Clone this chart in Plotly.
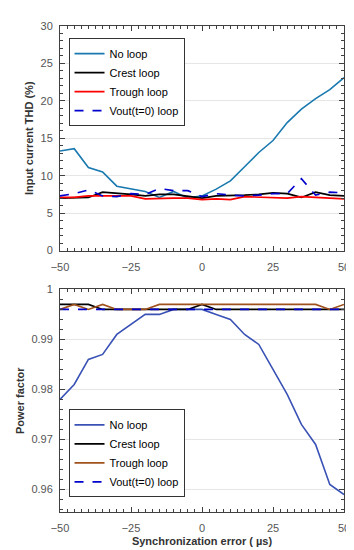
import plotly.graph_objects as go
from plotly.subplots import make_subplots

x = [-50, -45, -40, -35, -30, -25, -20, -15, -10, -5, 0, 5, 10, 15, 20, 25, 30, 35, 40, 45, 50]

thd_no = [13.3, 13.6, 11.1, 10.5, 8.6, 8.2, 7.9, 7.1, 7.9, 7.0, 7.3, 8.2, 9.3, 11.2, 13.1, 14.7, 17.1, 18.9, 20.3, 21.5, 23.1]
thd_crest = [7.0, 7.0, 7.1, 7.8, 7.7, 7.5, 7.3, 7.5, 7.5, 7.3, 7.0, 7.3, 7.3, 7.4, 7.5, 7.7, 7.6, 7.1, 7.8, 7.4, 7.3]
thd_trough = [7.1, 7.1, 7.3, 7.3, 7.4, 7.3, 6.9, 7.0, 7.0, 7.0, 6.8, 6.9, 6.8, 7.2, 7.1, 7.0, 7.0, 7.2, 7.1, 7.1, 6.9]
thd_vout = [7.3, 7.6, 8.1, 7.3, 7.2, 7.6, 7.5, 8.3, 8.0, 8.0, 7.2, 7.6, 7.4, 7.3, 7.4, 7.6, 7.6, 9.6, 7.4, 7.8, 7.7]

pf_no = [0.978, 0.981, 0.986, 0.987, 0.991, 0.993, 0.995, 0.995, 0.996, 0.996, 0.996, 0.995, 0.994, 0.991, 0.989, 0.984, 0.979, 0.973, 0.969, 0.961, 0.959]
pf_crest = [0.997, 0.997, 0.997, 0.996, 0.996, 0.996, 0.996, 0.996, 0.996, 0.996, 0.997, 0.996, 0.996, 0.996, 0.996, 0.996, 0.996, 0.996, 0.996, 0.996, 0.996]
pf_trough = [0.996, 0.997, 0.996, 0.997, 0.996, 0.996, 0.996, 0.997, 0.997, 0.997, 0.997, 0.997, 0.997, 0.997, 0.997, 0.997, 0.997, 0.997, 0.997, 0.996, 0.997]
pf_vout = [0.996] * 21

names = ["No loop", "Crest loop", "Trough loop", "Vout(t=0) loop"]

fig = make_subplots(rows=2, cols=1)

top_colors = ["#1a7ab0", "#000000", "#ff0000", "#0000cc"]
bot_colors = ["#3a52b5", "#000000", "#a0521e", "#0000cc"]

for i, (ys, c) in enumerate(zip([thd_no, thd_crest, thd_trough, thd_vout], top_colors)):
    fig.add_trace(go.Scatter(x=x, y=ys, mode="lines", name=names[i],
                             line=dict(color=c, width=1.6, dash="dash" if i == 3 else "solid"),
                             legend="legend"), row=1, col=1)
for i, (ys, c) in enumerate(zip([pf_no, pf_crest, pf_trough, pf_vout], bot_colors)):
    fig.add_trace(go.Scatter(x=x, y=ys, mode="lines", name=names[i],
                             line=dict(color=c, width=1.6, dash="dash" if i == 3 else "solid"),
                             legend="legend2"), row=2, col=1)

FONT = "Liberation Sans, Arial"
axis_common = dict(showline=True, mirror="allticks", linecolor="#404040", linewidth=1,
                   ticks="inside", ticklen=5, tickcolor="#404040",
                   tickfont=dict(family=FONT, size=11, color="#555555"),
                   zeroline=False)

fig.update_xaxes(range=[-50, 50], tickvals=[-50, -25, 0, 25, 50], showgrid=False,
                 ticklabelstandoff=6,
                 minor=dict(dtick=2.5, ticks="inside", ticklen=3, tickcolor="#404040", showgrid=False),
                 **axis_common)
fig.update_yaxes(showgrid=True, gridcolor="#e6e6e6", gridwidth=1, ticklabelstandoff=4, **axis_common)

fig.update_yaxes(range=[0, 30], tickvals=[0, 5, 10, 15, 20, 25, 30],
                 minor=dict(dtick=1, ticks="inside", ticklen=3, tickcolor="#404040", showgrid=False),
                 title=dict(text="<b>Input current THD (%)</b>", standoff=4,
                            font=dict(family=FONT, size=11, color="#333333")),
                 row=1, col=1)
fig.update_yaxes(range=[0.9555, 1.0], tickvals=[0.96, 0.97, 0.98, 0.99, 1.0],
                 ticktext=["0.96", "0.97", "0.98", "0.99", "1"],
                 minor=dict(dtick=0.002, tick0=0.96, ticks="inside", ticklen=3, tickcolor="#404040", showgrid=False),
                 title=dict(text="<b>Power factor</b>", standoff=4,
                            font=dict(family=FONT, size=11, color="#333333")),
                 row=2, col=1)
fig.update_xaxes(title=dict(text="<b>Synchronization error ( µs)</b>", standoff=4,
                            font=dict(family=FONT, size=11, color="#333333")),
                 row=2, col=1)

leg_common = dict(xanchor="left", bordercolor="#333333", borderwidth=1, bgcolor="white",
                  font=dict(family=FONT, size=11, color="#000000"),
                  tracegroupgap=0, itemwidth=30)

fig.update_layout(
    width=354, height=550,
    margin=dict(l=46, r=13, t=12, b=40),
    paper_bgcolor="white", plot_bgcolor="white",
    xaxis=dict(domain=[0, 1]), xaxis2=dict(domain=[0, 1]),
    yaxis=dict(domain=[0.538, 1.0]), yaxis2=dict(domain=[0.0, 0.458]),
    legend=dict(x=0.03, y=0.975, yanchor="top", **leg_common),
    legend2=dict(x=0.03, y=0.03, yanchor="bottom", **leg_common),
    showlegend=True,
)

fig.write_html("out.html")
